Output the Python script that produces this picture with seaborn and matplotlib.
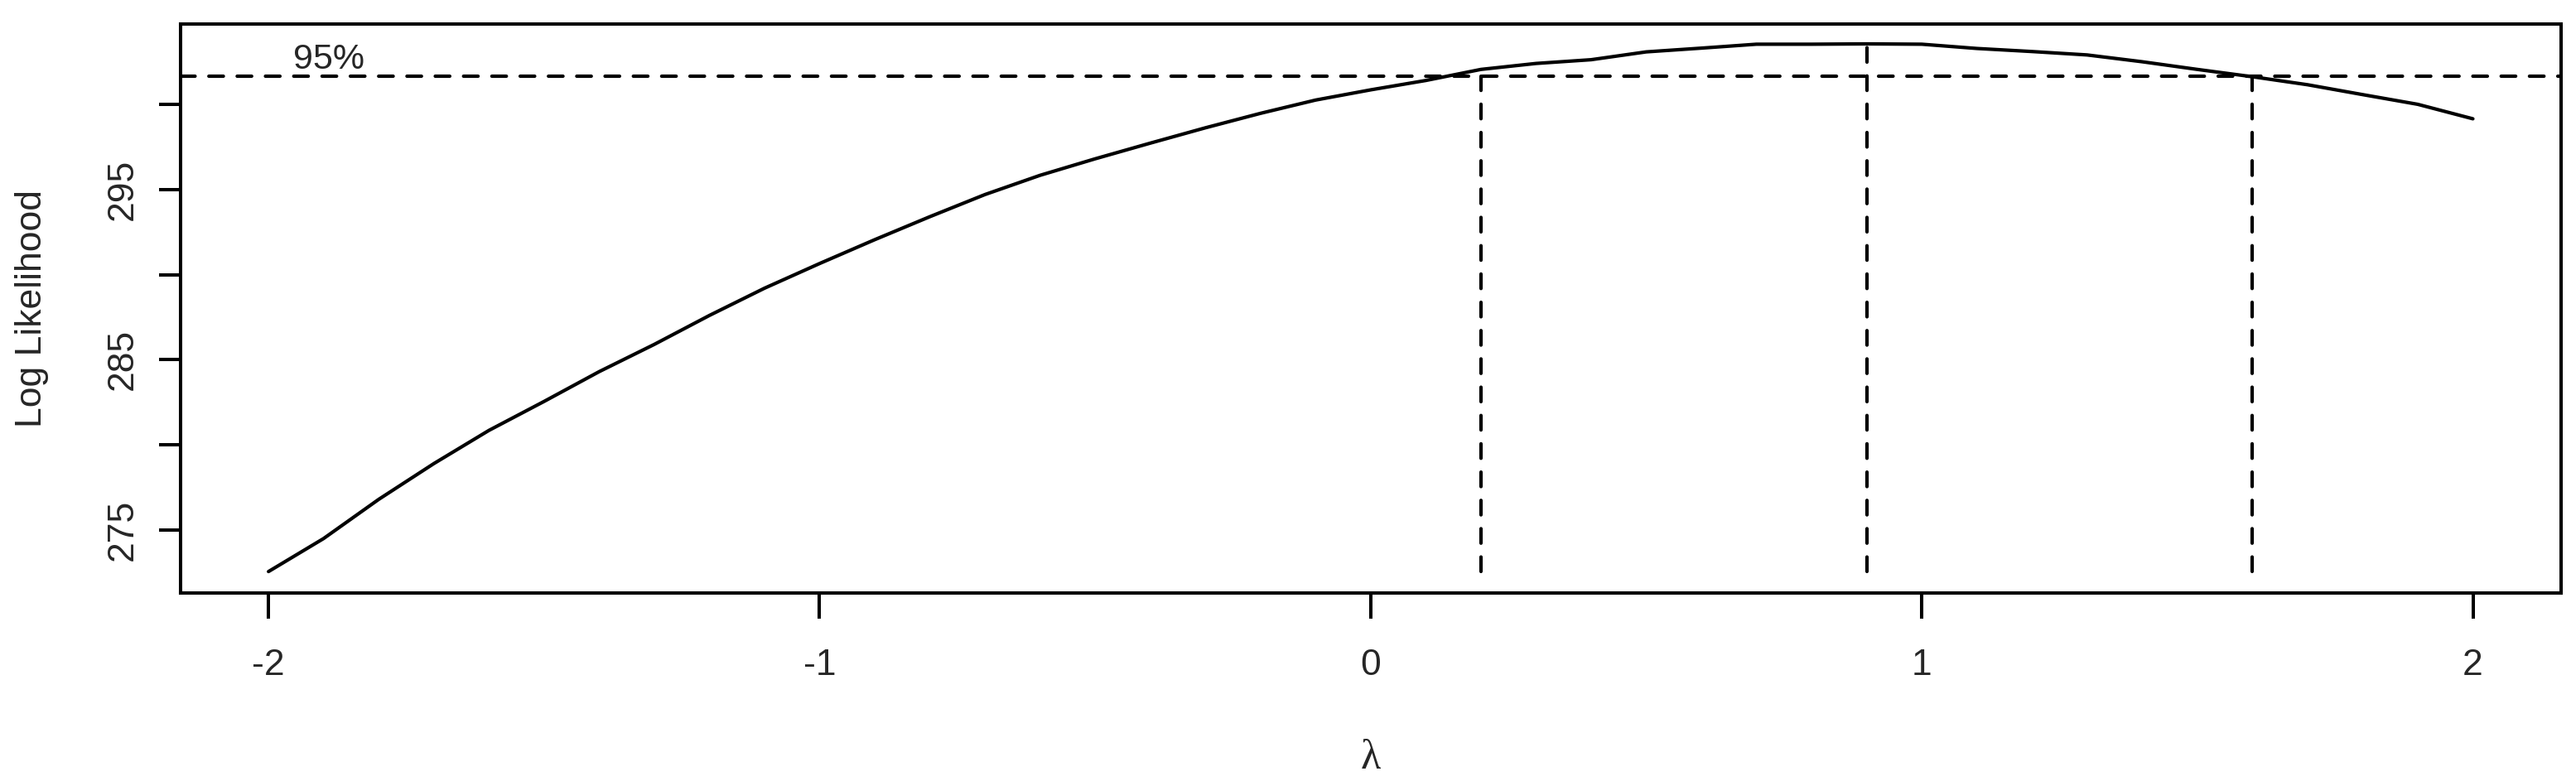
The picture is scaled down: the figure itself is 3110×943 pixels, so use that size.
import numpy as np
import pandas as pd
import matplotlib
matplotlib.use("Agg")
import matplotlib.pyplot as plt
import seaborn as sns

# Box-Cox profile log-likelihood
lam = [-2.0, -1.9, -1.8, -1.7, -1.6, -1.5, -1.4, -1.3, -1.2, -1.1,
       -1.0, -0.9, -0.8, -0.7, -0.6, -0.5, -0.4, -0.3, -0.2, -0.1,
       0.0, 0.1, 0.2, 0.3, 0.4, 0.5, 0.6, 0.7, 0.8, 0.9,
       1.0, 1.1, 1.2, 1.3, 1.4, 1.5, 1.6, 1.7, 1.8, 1.9, 2.0]
loglik = [272.56, 274.5, 276.8, 278.9, 280.85, 282.55, 284.3, 285.9, 287.6, 289.2,
          290.65, 292.05, 293.4, 294.7, 295.83, 296.8, 297.72, 298.62, 299.47, 300.25,
          300.85, 301.4, 302.05, 302.4, 302.62, 303.08, 303.3, 303.53, 303.53, 303.55,
          303.53, 303.28, 303.1, 302.9, 302.5, 302.05, 301.62, 301.15, 300.57, 300.0, 299.15]

ci_lam = [0.2, 1.6]      # 95% interval ends
best_lam = 0.9           # maximum
lim = max(loglik) - 1.92  # 95% cut-off

xticks = [-2, -1, 0, 1, 2]
yticks = [275, 280, 285, 290, 295, 300]
ytick_labels = ["275", "", "285", "", "295", ""]

df = pd.DataFrame({"lambda": lam, "loglik": loglik})

sns.set_style("ticks")
plt.rcParams["font.family"] = ["Liberation Sans", "DejaVu Sans"]

fig = plt.figure(figsize=(31.1, 9.43), dpi=100)
ax = fig.add_axes([0.07, 0.2407, 0.9242, 0.7282])

lw = 3.0
sns.lineplot(data=df, x="lambda", y="loglik", color="black", lw=lw, ax=ax,
             solid_capstyle="round", solid_joinstyle="round")

ymin = min(loglik)
dash = (4.2, 4.0)
ax.axhline(lim, color="black", lw=lw, dashes=dash, dash_capstyle="round")
for x in ci_lam:
    ax.plot([x, x], [ymin, lim], color="black", lw=lw, dashes=dash, dash_capstyle="round")
ax.plot([best_lam, best_lam], [ymin, max(loglik)], color="black", lw=lw,
        dashes=dash, dash_capstyle="round")

ax.text(-1.955, lim + 0.44, "95%", fontsize=31, ha="left", va="baseline")

ax.set_xlim(-2.16, 2.16)
ax.set_ylim(271.3, 304.7)
ax.set_xticks(xticks)
ax.set_xticklabels([str(v) for v in xticks])
ax.set_yticks(yticks)
ax.set_yticklabels(ytick_labels)

ax.tick_params(axis="both", width=2.9, color="black", labelsize=32)
ax.tick_params(axis="x", length=22, pad=26)
ax.tick_params(axis="y", length=19, pad=16, labelrotation=90)
for t in ax.get_yticklabels():
    t.set_va("center")

for s in ax.spines.values():
    s.set_visible(True)
    s.set_linewidth(2.9)
    s.set_color("black")

ax.set_xlabel("λ", fontsize=36, va="baseline", fontfamily=["Liberation Serif", "DejaVu Serif"])
ax.xaxis.set_label_coords(0.5, -0.309)
ax.set_ylabel("Log Likelihood", fontsize=32, va="baseline")
ax.yaxis.set_label_coords(-0.0583, 0.5)

fig.savefig("out.png", dpi=100)
